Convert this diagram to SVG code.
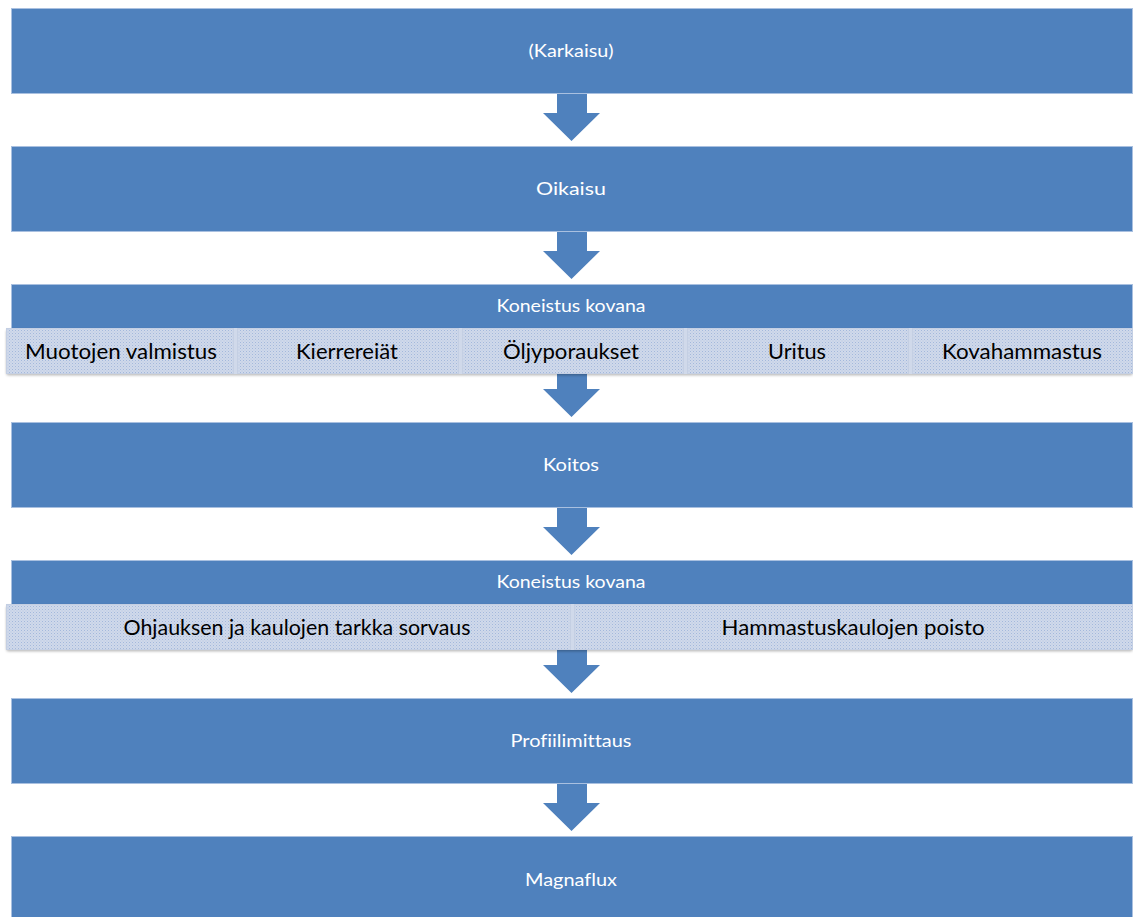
<svg xmlns="http://www.w3.org/2000/svg" width="1133" height="917" viewBox="0 0 1133 917">
<defs>
<pattern id="dots" width="3" height="3" patternUnits="userSpaceOnUse">
<rect width="3" height="3" fill="#d0d9ea"/>
<rect x="0" y="0" width="1" height="1" fill="#a3b8dc"/>
<rect x="1.5" y="1.5" width="1" height="1" fill="#b6c7e3"/>
</pattern>
<filter id="sh" x="-2%" y="-20%" width="104%" height="150%">
<feDropShadow dx="0" dy="1.5" stdDeviation="1" flood-color="#000" flood-opacity="0.25"/>
</filter>
</defs>
<style>
.box{fill:#4f81bd;stroke:#a9c0e0;stroke-width:1}
.sub{fill:url(#dots);stroke:#c4cfe3;stroke-width:1}
.wt{font-family:Lato,"Open Sans",sans-serif;font-size:18px;fill:#ffffff;text-anchor:middle;dominant-baseline:central;font-variant-ligatures:none}
.bt{font-family:Lato,"Open Sans",sans-serif;font-size:21px;fill:#000000;text-anchor:middle;dominant-baseline:central;font-variant-ligatures:none}
.arr{fill:#4f81bd}
</style>
<rect width="1133" height="917" fill="#ffffff"/>
<g id="connectors">
<polygon class="arr" points="557,93 587,93 587,113 600,113 571.5,141 543,113 557,113"/>
<polygon class="arr" points="557,231 587,231 587,251 600,251 571.5,279 543,251 557,251"/>
<polygon class="arr" points="557,374 587,374 587,389 600,389 571.5,417 543,389 557,389"/>
<polygon class="arr" points="557,507 587,507 587,527 600,527 571.5,555 543,527 557,527"/>
<polygon class="arr" points="557,650 587,650 587,665 600,665 571.5,693 543,665 557,665"/>
<polygon class="arr" points="557,783 587,783 587,803 600,803 571.5,831 543,803 557,803"/>
</g>
<g id="n1">
<rect class="box" x="11.5" y="8.5" width="1121" height="85"/>
<text class="wt" x="571" y="50" textLength="85" lengthAdjust="spacingAndGlyphs">(Karkaisu)</text>
</g>
<g id="n2">
<rect class="box" x="11.5" y="146.5" width="1121" height="85"/>
<text class="wt" x="571" y="188" textLength="70" lengthAdjust="spacingAndGlyphs">Oikaisu</text>
</g>
<g id="n3">
<rect class="box" x="11.5" y="284.5" width="1121" height="50"/>
<text class="wt" x="571" y="305" textLength="149" lengthAdjust="spacingAndGlyphs">Koneistus kovana</text>
<g filter="url(#sh)">
<rect x="6" y="328" width="1127" height="46" rx="3" fill="#d0d9ea"/>
</g>
<rect class="sub" x="6.5" y="328.5" width="227" height="45"/>
<rect class="sub" x="237.5" y="328.5" width="221" height="45"/>
<rect class="sub" x="462.5" y="328.5" width="221" height="45"/>
<rect class="sub" x="687.5" y="328.5" width="221" height="45"/>
<rect class="sub" x="912.5" y="328.5" width="220" height="45"/>
<text class="bt" x="121" y="350" textLength="192" lengthAdjust="spacingAndGlyphs">Muotojen valmistus</text>
<text class="bt" x="347" y="350" textLength="102" lengthAdjust="spacingAndGlyphs">Kierrereiät</text>
<text class="bt" x="571" y="350" textLength="136" lengthAdjust="spacingAndGlyphs">Öljyporaukset</text>
<text class="bt" x="797" y="350" textLength="58" lengthAdjust="spacingAndGlyphs">Uritus</text>
<text class="bt" x="1022" y="350" textLength="160" lengthAdjust="spacingAndGlyphs">Kovahammastus</text>
</g>
<g id="n4">
<rect class="box" x="11.5" y="422.5" width="1121" height="85"/>
<text class="wt" x="571" y="464" textLength="56" lengthAdjust="spacingAndGlyphs">Koitos</text>
</g>
<g id="n5">
<rect class="box" x="11.5" y="560.5" width="1121" height="50"/>
<text class="wt" x="571" y="581" textLength="149" lengthAdjust="spacingAndGlyphs">Koneistus kovana</text>
<g filter="url(#sh)">
<rect x="6" y="604" width="1127" height="46" rx="3" fill="#d0d9ea"/>
</g>
<rect class="sub" x="6.5" y="604.5" width="564" height="45"/>
<rect class="sub" x="574.5" y="604.5" width="558" height="45"/>
<text class="bt" x="297" y="626" textLength="347" lengthAdjust="spacingAndGlyphs">Ohjauksen ja kaulojen tarkka sorvaus</text>
<text class="bt" x="853" y="626" textLength="263" lengthAdjust="spacingAndGlyphs">Hammastuskaulojen poisto</text>
</g>
<g id="n6">
<rect class="box" x="11.5" y="698.5" width="1121" height="85"/>
<text class="wt" x="571" y="740" textLength="121" lengthAdjust="spacingAndGlyphs">Profiilimittaus</text>
</g>
<g id="n7">
<rect class="box" x="11.5" y="836.5" width="1121" height="85"/>
<text class="wt" x="571" y="879" textLength="92" lengthAdjust="spacingAndGlyphs">Magnaflux</text>
</g>
</svg>
